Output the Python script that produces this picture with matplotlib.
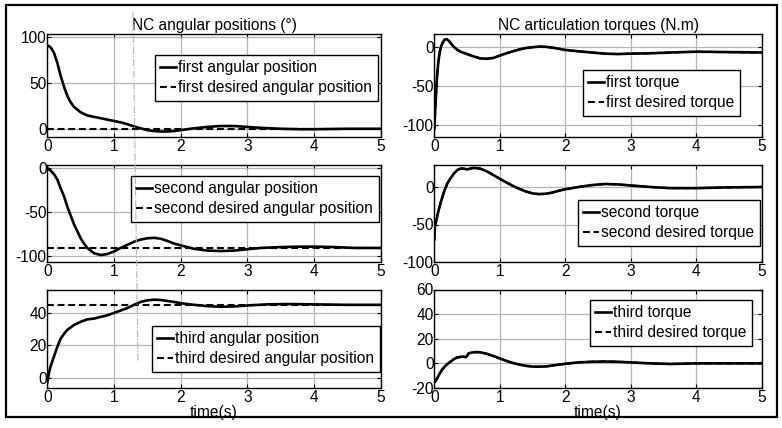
import matplotlib
matplotlib.use("Agg")
import matplotlib.pyplot as plt
from matplotlib.patches import Rectangle
from matplotlib.lines import Line2D

plt.rcParams['font.family'] = ['Liberation Sans', 'DejaVu Sans']
plt.rcParams['axes.unicode_minus'] = False

# ---------------- data ----------------
t_pos1 = [0, 0.03, 0.06, 0.1, 0.15, 0.2, 0.25, 0.3, 0.35, 0.4, 0.5, 0.6, 0.7, 0.8, 0.9, 1.0,
          1.1, 1.2, 1.3, 1.4, 1.5, 1.6, 1.7, 1.8, 1.9, 2.0, 2.2, 2.4, 2.6, 2.8, 3.0, 3.2,
          3.5, 3.8, 4.0, 4.5, 5.0]
pos1 = [91, 90, 88, 83, 72, 58, 46, 36, 29, 24, 18, 14.5, 13, 11.5, 10, 8.5,
        7, 5, 2.5, 0.5, -1.5, -2.5, -3, -3, -2.5, -1.5, 0.5, 2, 3, 3, 2, 1,
        0, -0.5, -0.5, 0, 0]
t_des = [0, 5]
des_pos1 = [0, 0]

t_pos2 = [0, 0.05, 0.1, 0.15, 0.2, 0.25, 0.3, 0.35, 0.4, 0.45, 0.5, 0.55, 0.6, 0.7, 0.8, 0.9,
          1.0, 1.1, 1.2, 1.3, 1.4, 1.5, 1.6, 1.7, 1.8, 1.9, 2.0, 2.2, 2.4, 2.6, 2.8, 3.0,
          3.2, 3.5, 3.8, 4.0, 4.3, 4.6, 5.0]
pos2 = [0, -3, -7, -13, -23, -32, -44, -54, -64, -72, -80, -86, -91, -97, -99, -98,
        -95, -91, -87.5, -84, -81.5, -80, -79.5, -80.5, -83, -86, -88, -92, -94, -94.5, -94, -92.5,
        -91, -90, -89.5, -89.5, -90, -91, -91]
des_pos2 = [-91, -91]

t_pos3 = [0, 0.02, 0.05, 0.1, 0.15, 0.2, 0.25, 0.3, 0.4, 0.5, 0.6, 0.7, 0.8, 0.9, 1.0, 1.1,
          1.2, 1.3, 1.4, 1.5, 1.6, 1.7, 1.8, 1.9, 2.0, 2.2, 2.4, 2.6, 2.8, 3.0, 3.3, 3.6,
          4.0, 4.5, 5.0]
pos3 = [-3, 2, 7, 13, 19, 24, 27, 29.5, 32.5, 34.5, 36, 36.5, 37.5, 38.5, 40, 41.5,
        43, 45, 46.8, 47.8, 48.2, 48, 47.4, 46.8, 46, 45, 44.2, 43.8, 44, 44.6, 45.3, 45.5,
        45.3, 45, 45]
des_pos3 = [45, 45]

t_tq1 = [0, 0.02, 0.04, 0.06, 0.08, 0.1, 0.13, 0.16, 0.19, 0.22, 0.26, 0.3, 0.35, 0.4, 0.5, 0.6,
         0.7, 0.8, 0.9, 1.0, 1.1, 1.2, 1.3, 1.4, 1.5, 1.6, 1.7, 1.8, 1.9, 2.0, 2.2, 2.4,
         2.6, 2.8, 3.0, 3.3, 3.6, 4.0, 4.5, 5.0]
tq1 = [-105, -70, -40, -20, -8, 0, 6, 9.5, 10, 8, 4, 0, -3.5, -6, -9, -12,
       -14.5, -15, -14, -11, -8, -5.5, -3, -1.3, -0.2, 0.5, 0.3, -0.8, -2.2, -3.8, -5.5, -7,
       -8.5, -9, -8.5, -8, -7, -6, -6.5, -7]
des_tq1 = tq1

t_tq2 = [0, 0.01, 0.03, 0.06, 0.1, 0.15, 0.2, 0.25, 0.3, 0.35, 0.4, 0.45, 0.5, 0.55, 0.6, 0.7,
         0.8, 0.9, 1.0, 1.1, 1.2, 1.3, 1.4, 1.5, 1.6, 1.7, 1.8, 1.9, 2.0, 2.2, 2.4, 2.6,
         2.8, 3.0, 3.3, 3.6, 4.0, 4.5, 5.0]
tq2 = [-70, -52, -45, -33, -20, -6, 5, 12, 18, 22.5, 24.5, 24.5, 23.5, 24.5, 25.5, 24.5,
       21, 16, 11, 6, 1.5, -2.5, -6, -8.5, -9.5, -9, -7.5, -5, -3, 0, 2.5, 4,
       3.5, 2, 0, -1.5, -1.5, -0.5, 0]
des_tq2 = tq2

t_tq3 = [0, 0.01, 0.04, 0.08, 0.12, 0.16, 0.2, 0.25, 0.3, 0.35, 0.4, 0.45, 0.48, 0.5, 0.52, 0.55,
         0.6, 0.65, 0.7, 0.8, 0.9, 1.0, 1.1, 1.2, 1.3, 1.4, 1.5, 1.6, 1.7, 1.8, 2.0, 2.2,
         2.4, 2.6, 2.8, 3.0, 3.3, 3.6, 4.0, 4.5, 5.0]
tq3 = [-15, -15, -12.5, -8.5, -5, -2.5, -0.5, 1.5, 3.5, 4.8, 5.3, 5.5, 5, 6, 8, 8.5,
       9, 9.2, 9, 7.8, 6, 4, 2, 0.3, -1, -2, -2.6, -2.7, -2.5, -1.8, -0.3, 0.8,
       1.3, 1.5, 1.3, 0.8, 0, -0.5, 0, 0, 0]
des_tq3 = tq3

x_ticks = [0, 1, 2, 3, 4, 5]
pos_yticks = [[0, 50, 100], [-100, -50, 0], [0, 20, 40]]
tq_yticks = [[-100, -50, 0], [-100, -50, 0], [-20, 0, 20, 40, 60]]
pos_ylims = [(-9, 103), (-107, 4), (-6.5, 54.5)]
tq_ylims = [(-115, 16), (-100, 30), (-20, 60)]

pos_labels = [("first angular position", "first desired angular position"),
              ("second angular position", "second desired angular position"),
              ("third angular position", "third desired angular position")]
tq_labels = [("first torque", "first desired torque"),
             ("second torque", "second desired torque"),
             ("third torque", "third desired torque")]
titles = ("NC angular positions (°)", "NC articulation torques (N.m)")
xlabel = "time(s)"

# cursor artifact (data x in left column)
cursor_t = (1.285, 1.36)
cursor_y_bottom = 10

# ---------------- layout ----------------
W, H = 782, 428
fig = plt.figure(figsize=(W / 100, H / 100), dpi=100)

def px_axes(x0, x1, y0, y1):
    return fig.add_axes([x0 / W, 1 - y1 / H, (x1 - x0) / W, (y1 - y0) / H])

cols = [(47.3, 380.7), (434.3, 761.8)]
rows = [(34.5, 137), (164.5, 262), (289.5, 388)]
leg_pos = [[(155, 55), (131, 176), (152, 326)],
           [(583, 70), (578, 200), (590, 300)]]

FS = 11.2
DASH = (0, (3.3, 1.8))
pos_data = [(t_pos1, pos1, des_pos1), (t_pos2, pos2, des_pos2), (t_pos3, pos3, des_pos3)]
tq_data = [(t_tq1, tq1, des_tq1), (t_tq2, tq2, des_tq2), (t_tq3, tq3, des_tq3)]

axes = [[None] * 3, [None] * 3]
for c in range(2):
    for r in range(3):
        ax = px_axes(cols[c][0], cols[c][1], rows[r][0], rows[r][1])
        axes[c][r] = ax
        if c == 0:
            tt, yy, dd = pos_data[r]
            ax.plot(tt, yy, color='black', lw=1.9, label=pos_labels[r][0])
            ax.plot(t_des, dd, color='black', lw=1.5, ls=DASH, label=pos_labels[r][1])
            ax.set_ylim(*pos_ylims[r])
            ax.set_yticks(pos_yticks[r])
        else:
            tt, yy, dd = tq_data[r]
            ax.plot(tt, yy, color='black', lw=1.9, label=tq_labels[r][0])
            ax.plot(tt, dd, color='black', lw=1.5, ls=DASH, label=tq_labels[r][1])
            ax.set_ylim(*tq_ylims[r])
            ax.set_yticks(tq_yticks[r])
        ax.set_xlim(0, 5)
        ax.set_xticks(x_ticks)
        ax.grid(True, color='#b4b4b4', lw=0.9)
        ax.set_axisbelow(True)
        for s in ax.spines.values():
            s.set_linewidth(1.0)
        ax.tick_params(direction='in', length=3, width=0.8, labelsize=FS, pad=1.5,
                       top=True, right=True)
        ax.tick_params(axis='y', pad=0.5)
        lx, ly = leg_pos[c][r]
        leg = ax.legend(loc='upper left', bbox_to_anchor=(lx / W, 1 - ly / H),
                        bbox_transform=fig.transFigure, borderaxespad=0,
                        fontsize=FS, handlelength=1.0, handletextpad=0.15,
                        labelspacing=0.3, borderpad=0.35, fancybox=False,
                        framealpha=1, edgecolor='black')
        leg.get_frame().set_linewidth(1.0)
        if r == 0:
            ax.set_title(titles[c], fontsize=FS, pad=3)
        if r == 2:
            ax.set_xlabel(xlabel, fontsize=FS, labelpad=0)

# cursor line (dash-dot, light purple) spanning the left column
top_ax = axes[0][0]
bot_ax = axes[0][2]
fig.canvas.draw()
xt = fig.transFigure.inverted().transform(top_ax.transData.transform((cursor_t[0], 0)))[0]
pb = fig.transFigure.inverted().transform(bot_ax.transData.transform((cursor_t[1], cursor_y_bottom)))
fig.add_artist(Line2D([xt, pb[0]], [1 - 12 / H, pb[1]], transform=fig.transFigure,
                      color='#b3aed6', lw=0.8, ls='-.', zorder=5))

# outer frame
fig.add_artist(Rectangle((6 / W, 1 - 417 / H), (777 - 6) / W, (417 - 5) / H,
                         transform=fig.transFigure, fill=False, edgecolor='black', lw=1.6))

fig.savefig("out.png", dpi=100)
